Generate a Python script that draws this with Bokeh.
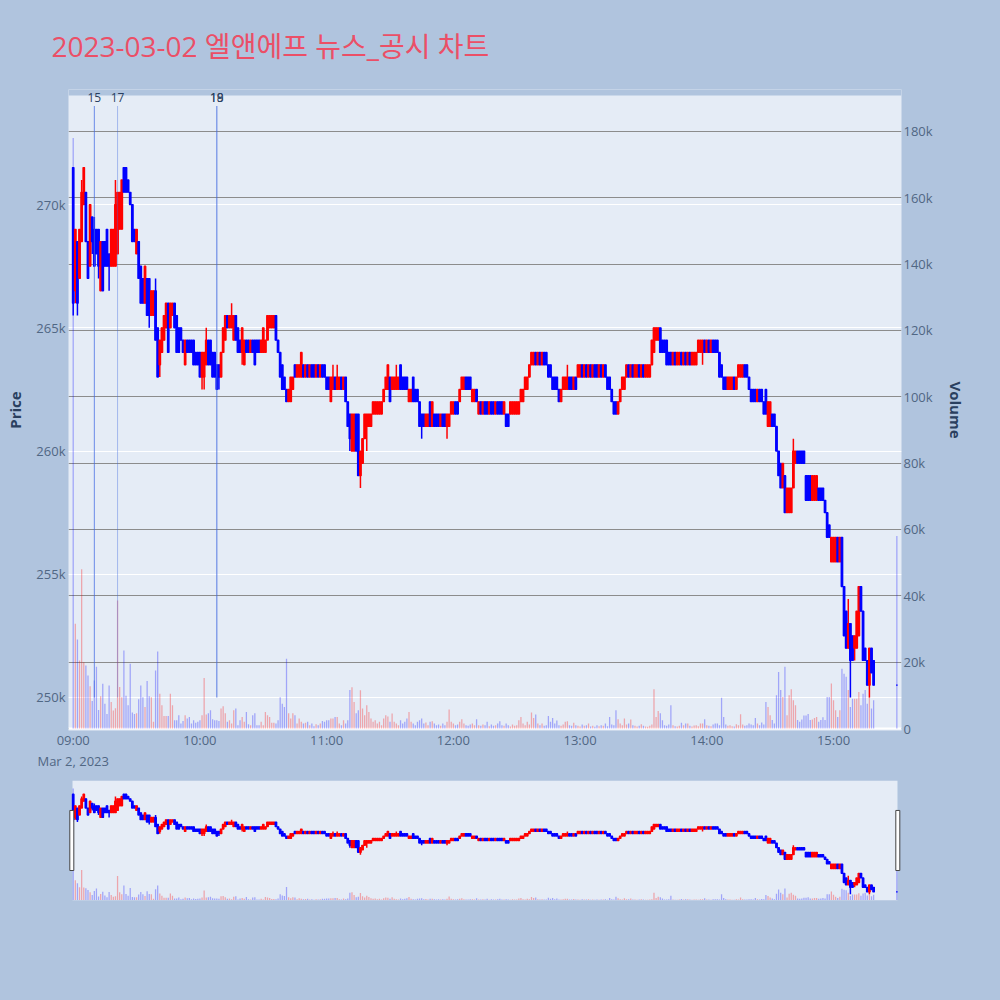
import pandas as pd

from bokeh.plotting import figure
from bokeh.layouts import column
from bokeh.models import (ColumnDataSource, Range1d, LinearAxis, FixedTicker, Grid,
                          DatetimeTickFormatter, GlobalInlineStyleSheet)
from bokeh.core.properties import value
from bokeh.embed import file_html
from bokeh.resources import INLINE

TITLE = "2023-03-02 엘앤에프 뉴스_공시 차트"
DAY = "2023-03-02"

# one candle per minute from 09:00 to 15:19, last entry = 15:30 closing auction
# prices in thousand won, volumes in thousand shares
opens = [
    271.5, 266.5, 268.5, 267, 268.5, 270, 270.5, 268.5, 267.5, 269.5,
    269, 269, 269, 266.5, 268.5, 268.5, 269, 268, 267.5, 267.5,
    267.5, 268, 269, 269, 271.5, 271.5, 271, 270.5, 270, 269,
    268, 268.5, 267.5, 267, 266, 267, 267, 265.5, 265.5, 266.5,
    265, 263.5, 264, 264.5, 265, 266, 265, 265.5, 266, 265.5,
    265, 265, 264.5, 263.5, 264.5, 264.5, 264.5, 264.5, 264, 264,
    264, 263, 263, 263.5, 264.5, 264.5, 264, 264, 263.5, 263.5,
    263, 264, 264.5, 265.5, 265, 265, 264.5, 265.5, 265, 264.5,
    264, 263.5, 264.5, 264.5, 264, 264.5, 264.5, 264.5, 264.5, 264,
    264, 264, 264.5, 265, 265, 265, 265.5, 264.5, 264, 263.5,
    263, 262.5, 262, 262, 262.5, 263.5, 263, 263, 263, 263.5,
    263, 263.5, 263, 263.5, 263.5, 263, 263.5, 263, 263.5, 263.5,
    263, 263, 262, 262.5, 263, 262.5, 262.5, 263, 262.5, 263,
    262, 261.5, 260, 260, 261.5, 261.5, 259, 259.5, 260.5, 261,
    261, 261, 261.5, 261.5, 261.5, 261.5, 261.5, 262, 262.5, 262.5,
    263, 262.5, 262.5, 262.5, 262.5, 263.5, 263, 263, 263, 262,
    262, 263, 262.5, 262.5, 262, 261.5, 261.5, 261, 261, 262,
    261, 261.5, 261.5, 261.5, 261, 261.5, 261.5, 261, 261, 261.5,
    261.5, 262, 262, 262, 262.5, 262.5, 263, 263, 263, 262,
    262, 262.5, 261.5, 262, 261.5, 262, 262, 261.5, 262, 262,
    261.5, 262, 262, 262, 261.5, 261.5, 261.5, 261.5, 261.5, 261.5,
    261.5, 261.5, 262, 262, 262.5, 262.5, 263, 263.5, 263.5, 264,
    263.5, 264, 263.5, 264, 264, 263.5, 263.5, 263, 263, 263,
    262.5, 262, 262.5, 262.5, 262.5, 263, 263, 262.5, 263, 263,
    263, 263.5, 263, 263.5, 263, 263.5, 263, 263.5, 263.5, 263,
    263.5, 263, 263.5, 263, 263, 262.5, 262, 262, 261.5, 262,
    262.5, 262.5, 263, 263.5, 263, 263.5, 263, 263, 263.5, 263,
    263.5, 263, 263, 263, 263.5, 264, 264.5, 264.5, 265, 264.5,
    264.5, 264.5, 264, 264, 263.5, 264, 263.5, 263.5, 264, 263.5,
    264, 263.5, 264, 263.5, 263.5, 263.5, 264, 264, 264, 264.5,
    264, 264.5, 264, 264.5, 264.5, 264.5, 264, 263.5, 263, 263,
    262.5, 262.5, 262.5, 263, 262.5, 263, 263, 263, 263.5, 263.5,
    263, 262.5, 262.5, 262.5, 262, 262.5, 262.5, 262, 262.5, 261,
    261, 261.5, 261.5, 261, 260, 259.5, 258.5, 259, 257.5, 257.5,
    257.5, 258.5, 259.5, 260, 260, 260, 260, 259, 259, 259,
    258, 258, 258, 258.5, 258.5, 258.5, 258, 257.5, 257, 255.5,
    255.5, 255.5, 256.5, 255.5, 256.5, 254.5, 253.5, 252, 253, 252.5,
    252, 252, 252.5, 254.5, 253.5, 252, 251.5, 250.5, 252, 251.5,
    250.5,
]
closes = [
    266, 269, 266, 269, 270.5, 271.5, 268.5, 267, 270, 268.5,
    267.5, 268, 267.5, 268.5, 266.5, 267.5, 267.5, 267.5, 269, 269,
    270, 270.5, 270.5, 271, 270.5, 270.5, 270.5, 270, 268.5, 268.5,
    269, 267, 266, 266, 267.5, 265.5, 265.5, 266.5, 266.5, 264.5,
    263, 264.5, 265, 265.5, 266, 264, 266, 266, 265, 264,
    264, 264.5, 264, 264.5, 264, 264, 264, 263.5, 263.5, 263.5,
    263, 264, 264, 264.5, 263.5, 263.5, 263, 263, 262.5, 263,
    264, 265, 265.5, 265, 265.5, 265.5, 265.5, 264.5, 264, 264,
    265, 264.5, 264, 264, 264.5, 264, 263.5, 264, 264, 264.5,
    265, 264.5, 265.5, 265.5, 265.5, 265.5, 264.5, 264, 263, 262.5,
    262.5, 262, 262.5, 263, 263, 263, 263.5, 263.5, 264, 263,
    263.5, 263, 263.5, 263, 263, 263.5, 263, 263.5, 263, 263,
    262.5, 262.5, 263, 263, 262.5, 263, 263, 262.5, 263, 262,
    261, 260.5, 261.5, 261.5, 260, 259, 260, 260.5, 261.5, 261.5,
    261.5, 261.5, 262, 262, 262, 262, 262, 262.5, 263, 263.5,
    262, 263, 263, 263, 263, 262.5, 262.5, 262.5, 262.5, 262.5,
    262.5, 262, 262, 262, 261, 261, 261, 261.5, 261.5, 261,
    262, 261, 261, 261, 261.5, 261, 261, 261.5, 261.5, 262,
    262, 261.5, 261.5, 262.5, 263, 263, 262.5, 262.5, 262.5, 262.5,
    262.5, 262, 262, 261.5, 262, 261.5, 261.5, 262, 261.5, 261.5,
    262, 261.5, 261.5, 261.5, 262, 261, 261, 262, 262, 262,
    262, 262, 262.5, 262.5, 263, 263, 263.5, 264, 264, 263.5,
    264, 263.5, 264, 263.5, 263.5, 263, 263, 262.5, 262.5, 262.5,
    262, 262.5, 263, 263, 263, 262.5, 262.5, 263, 262.5, 263.5,
    263.5, 263, 263.5, 263, 263.5, 263, 263.5, 263, 263, 263.5,
    263, 263.5, 263, 262.5, 262.5, 262, 261.5, 261.5, 262, 262.5,
    263, 263, 263.5, 263, 263.5, 263, 263.5, 263.5, 263, 263.5,
    263, 263.5, 263.5, 263.5, 264.5, 265, 265, 265, 264, 264,
    264, 263.5, 263.5, 263.5, 264, 263.5, 264, 264, 263.5, 264,
    263.5, 264, 263.5, 264, 264, 264, 264.5, 264.5, 264.5, 264,
    264.5, 264, 264.5, 264, 264, 264, 263, 263, 262.5, 262.5,
    263, 263, 263, 262.5, 263, 263.5, 263.5, 263.5, 263, 263,
    262.5, 262, 262, 262, 262.5, 262, 262, 261.5, 261.5, 262,
    262, 261, 261, 260, 259, 258.5, 259.5, 257.5, 258.5, 258.5,
    258.5, 260, 260, 259.5, 259.5, 259.5, 259.5, 258, 258, 258,
    259, 259, 259, 258, 258, 258, 257.5, 256.5, 256.5, 256.5,
    256.5, 256.5, 255.5, 256.5, 254.5, 252.5, 252, 253, 251.5, 251.5,
    252.5, 253.5, 254.5, 253.5, 251.5, 251.5, 250.5, 252, 251, 250.5,
    250.5,
]
highs = [
    271.5, 269, 268.5, 269, 271, 271.5, 270.5, 268.5, 270, 269.5,
    269.5, 269, 269, 268.5, 268.5, 268.5, 269, 268, 269, 269,
    271, 270.5, 270.5, 271, 271.5, 271.5, 271, 270.5, 270, 269,
    269, 268.5, 267.5, 267, 267.5, 267, 267, 266.5, 266.5, 267,
    265, 264.5, 265, 265.5, 266, 266, 266, 266, 266, 265.5,
    265, 265, 264.5, 264.5, 264.5, 264.5, 264.5, 264.5, 264, 264,
    264, 264, 264, 265, 264.5, 264.5, 264, 264, 263.5, 263.5,
    264, 265, 265.5, 265.5, 265.5, 266, 265.5, 265.5, 265, 264.5,
    265, 264.5, 264.5, 264.5, 264.5, 264.5, 264.5, 264.5, 264.5, 264.5,
    265, 264.5, 265.5, 265.5, 265.5, 265.5, 265.5, 264.5, 264, 263.5,
    263, 262.5, 262.5, 263, 263, 263.5, 263.5, 263.5, 264, 263.5,
    263.5, 263.5, 263.5, 263.5, 263.5, 263.5, 263.5, 263.5, 263.5, 263.5,
    263, 263, 263, 263.5, 263, 263.5, 263, 263, 263, 263,
    262, 261.5, 261.5, 261.5, 261.5, 261.5, 260, 260.5, 261.5, 261.5,
    261.5, 261.5, 262, 262, 262, 262, 262, 262.5, 263, 263.5,
    263, 263, 263, 263.5, 263, 263.5, 263, 263, 263, 262.5,
    262.5, 263, 262.5, 262.5, 262, 261.5, 261.5, 261.5, 261.5, 262,
    262, 261.5, 261.5, 261.5, 261.5, 261.5, 261.5, 261.5, 261.5, 262,
    262, 262, 262, 262.5, 263, 263, 263, 263, 263, 262.5,
    262.5, 262.5, 262, 262, 262, 262, 262, 262, 262, 262,
    262, 262, 262, 262, 262, 261.5, 261.5, 262, 262, 262,
    262, 262, 262.5, 262.5, 263, 263, 263.5, 264, 264, 264,
    264, 264, 264, 264, 264, 263.5, 263.5, 263, 263, 263,
    262.5, 262.5, 263, 263, 263.5, 263, 263, 263, 263, 263.5,
    263.5, 263.5, 263.5, 263.5, 263.5, 263.5, 263.5, 263.5, 263.5, 263.5,
    263.5, 263.5, 263.5, 263, 263, 262.5, 262, 262, 262, 262.5,
    263, 263, 263.5, 263.5, 263.5, 263.5, 263.5, 263.5, 263.5, 263.5,
    263.5, 263.5, 263.5, 263.5, 264.5, 265, 265, 265, 265, 264.5,
    264.5, 264.5, 264, 264, 264, 264, 264, 264, 264, 264,
    264, 264, 264, 264, 264, 264, 264.5, 264.5, 264.5, 264.5,
    264.5, 264.5, 264.5, 264.5, 264.5, 264.5, 264, 263.5, 263, 263,
    263, 263, 263, 263, 263, 263.5, 263.5, 263.5, 263.5, 263.5,
    263, 262.5, 262.5, 262.5, 262.5, 262.5, 262.5, 262, 262.5, 262,
    262, 261.5, 261.5, 261, 260, 259.5, 259.5, 259, 258.5, 258.5,
    258.5, 260.5, 260, 260, 260, 260, 260, 259, 259, 259,
    259, 259, 259, 258.5, 258.5, 258.5, 258, 257.5, 257, 256.5,
    256.5, 256.5, 256.5, 256.5, 256.5, 254.5, 253.5, 254, 253, 252.5,
    252.5, 253.5, 254.5, 254.5, 253.5, 252, 251.5, 252, 252, 251.5,
    250.5,
]
lows = [
    265.5, 266, 265.5, 267, 268.5, 270, 268.5, 267, 267.5, 268,
    267.5, 268, 267, 266.5, 266.5, 267.5, 267.5, 266.5, 267.5, 267.5,
    267.5, 268, 269, 269, 270.5, 270.5, 270.5, 270, 268.5, 268.5,
    268, 267, 266, 266, 266, 265.5, 265, 265.5, 265.5, 264.5,
    263, 263, 264, 264.5, 265, 264, 265, 265.5, 265, 264,
    264, 264.5, 264, 263.5, 264, 264, 264, 263.5, 263.5, 263.5,
    263, 262.5, 262.5, 263.5, 263.5, 263.5, 263, 263, 262.5, 262.5,
    263, 264, 264.5, 265, 265, 265, 264.5, 264.5, 264, 264,
    263.5, 263.5, 264, 264, 264, 264, 263.5, 264, 264, 264,
    264, 264, 264.5, 265, 265, 265, 264.5, 264, 263, 262.5,
    262.5, 262, 262, 262, 262.5, 263, 263, 263, 263, 263,
    263, 263, 263, 263, 263, 263, 263, 263, 263, 263,
    262.5, 262.5, 262, 262.5, 262.5, 262.5, 262.5, 262.5, 262.5, 262,
    261, 260, 260, 260, 260, 259, 258.5, 259.5, 260.5, 260,
    261, 261, 261.5, 261.5, 261.5, 261.5, 261.5, 262, 262.5, 262.5,
    262, 262.5, 262.5, 262.5, 262.5, 262.5, 262.5, 262.5, 262.5, 262,
    262, 262, 262, 262, 261, 260.5, 261, 261, 261, 261,
    261, 261, 261, 261, 261, 261, 261, 260.5, 261, 261.5,
    261.5, 261.5, 261.5, 262, 262.5, 262.5, 262.5, 262.5, 262.5, 262,
    262, 262, 261.5, 261.5, 261.5, 261.5, 261.5, 261.5, 261.5, 261.5,
    261.5, 261.5, 261.5, 261.5, 261.5, 261, 261, 261.5, 261.5, 261.5,
    261.5, 261.5, 262, 262, 262.5, 262.5, 263, 263.5, 263.5, 263.5,
    263.5, 263.5, 263.5, 263.5, 263.5, 263, 263, 262.5, 262.5, 262.5,
    262, 262, 262.5, 262.5, 262.5, 262.5, 262.5, 262.5, 262.5, 263,
    263, 263, 263, 263, 263, 263, 263, 263, 263, 263,
    263, 263, 263, 262.5, 262.5, 262, 261.5, 261.5, 261.5, 262,
    262.5, 262.5, 263, 263, 263, 263, 263, 263, 263, 263,
    263, 263, 263, 263, 263.5, 264, 264.5, 264.5, 264, 264,
    264, 263.5, 263.5, 263.5, 263.5, 263.5, 263.5, 263.5, 263.5, 263.5,
    263.5, 263.5, 263.5, 263.5, 263.5, 263.5, 264, 264, 263.5, 264,
    264, 264, 264, 264, 264, 264, 263, 263, 262.5, 262.5,
    262.5, 262.5, 262.5, 262.5, 262.5, 263, 263, 263, 263, 263,
    262.5, 262, 262, 262, 262, 262, 262, 261.5, 261.5, 261,
    261, 261, 261, 260, 259, 258.5, 258.5, 257.5, 257.5, 257.5,
    257.5, 258.5, 259.5, 259.5, 259.5, 259.5, 259.5, 258, 258, 258,
    258, 258, 258, 258, 258, 258, 257.5, 256.5, 256.5, 255.5,
    255.5, 255.5, 255.5, 255.5, 254.5, 252.5, 252, 252, 250, 251.5,
    251.5, 252, 252.5, 253.5, 251.5, 251.5, 250.5, 250, 251, 250.5,
    250.5,
]
volumes = [
    178, 31.6, 26.8, 20.5, 48, 20, 19, 16, 12.7, 8.3,
    14.5, 18.6, 5.6, 9.7, 13.5, 7.5, 4.4, 13, 8, 5.4,
    6.1, 38.6, 12.5, 9.4, 23.5, 9.9, 7, 19.5, 4.8, 4.4,
    4.6, 8.8, 13, 9.4, 6.5, 14.3, 9.7, 9.4, 2, 17.5,
    23.2, 10.5, 7, 3.8, 3.8, 3.8, 10.5, 7, 2.5, 2.5,
    4, 1.5, 2.3, 4, 3, 3.5, 1.5, 2.5, 1.7, 2,
    2.5, 4, 15.2, 4.2, 4.6, 5.5, 2.8, 2.5, 2.5, 2.3,
    6, 6.7, 4.6, 2, 2.5, 1.5, 5.5, 6, 1, 2.5,
    3.5, 2, 5, 1.3, 1, 4, 4.6, 1, 1, 2,
    1, 5, 4, 3.5, 1.7, 1.7, 1.5, 2.5, 9.4, 7.5,
    6.5, 21, 4.6, 3, 4.6, 4, 1.5, 3, 2, 1.5,
    1.7, 2, 1, 1.5, 0.7, 1.3, 1, 1.5, 2.3, 2,
    2.5, 2.5, 3, 3, 3.5, 3.5, 1.5, 1, 2.5, 1.5,
    2.5, 11.6, 12.4, 8, 4.6, 5.5, 11.5, 6, 4, 7,
    5, 3, 2, 2.5, 1.5, 2, 1, 3, 4, 3.6,
    2, 4.5, 2, 1.5, 1, 2.5, 1.5, 2, 3, 5,
    2, 1.5, 1, 2, 2.5, 3, 1.5, 1.8, 1, 2,
    2.2, 1.5, 1, 1.2, 0.8, 1.5, 1, 2, 5.7, 2,
    1.5, 1, 1.2, 2, 2.8, 1.5, 1, 0.8, 1.2, 1.5,
    1, 2.8, 1, 0.8, 1.2, 1, 2, 0.7, 1.2, 0.8,
    1, 1.5, 2.2, 1, 0.8, 1.5, 1, 0.6, 1.2, 0.8,
    1, 2.5, 3.5, 1.5, 1, 2, 1.2, 4.8, 3.2, 4.2,
    1.5, 1, 1.5, 0.8, 1, 3.8, 2, 3.2, 1.5, 2.4,
    1, 0.8, 1.2, 2, 2.2, 1, 0.8, 1.7, 1, 0.8,
    0.6, 1.2, 0.8, 1, 1.5, 0.6, 0.8, 0.5, 1, 0.7,
    1, 0.8, 1.5, 0.7, 3.5, 1.2, 1, 5.5, 2.8, 1.5,
    1, 3, 1.2, 1.5, 2.7, 1, 0.8, 0.6, 0.8, 1.3,
    0.8, 0.6, 0.5, 0.8, 1.2, 11.8, 3.5, 5.3, 4.6, 2.5,
    1, 0.8, 1.2, 7, 1, 0.7, 0.6, 0.8, 1.7, 1,
    1.5, 1.5, 0.8, 0.6, 0.9, 1, 0.7, 1.5, 1.5, 2.8,
    1, 0.8, 0.7, 1.2, 1.5, 1.5, 1, 9.3, 3.5, 1.2,
    0.8, 1, 0.7, 0.6, 1.3, 1, 4.3, 1.2, 0.8, 1,
    1.5, 1.2, 1, 3.2, 1.5, 1, 1.8, 1.2, 8, 6.5,
    4, 2.6, 1.5, 10, 17, 11.6, 9.5, 18.6, 4, 10,
    11.8, 8.5, 7, 2.6, 2, 2.7, 3.9, 3.9, 4.4, 2.6,
    2.7, 3.2, 3.5, 2, 2.6, 3.4, 2.6, 9.5, 9.5, 13.6,
    8.5, 5.5, 3.5, 5.5, 18, 16.5, 15.6, 11.6, 6.5, 9,
    9, 9, 11, 7, 10.5, 11.6, 7.5, 9.5, 6, 8.5,
    58,
]

news_times = ["09:10", "09:21", "10:08", "10:08"]
news_labels = ["15", "17", "18", "19"]
news_line_alpha = [0.75, 0.4, 0.5, 0.5]

price_ticks = [250, 255, 260, 265, 270]
volume_ticks = [0, 20, 40, 60, 80, 100, 120, 140, 160, 180]

BG = "#b0c4de"
PLOT_BG = "#e5ecf6"
UP, DOWN = "#ff0000", "#0000ff"
FONT = "Open Sans, Noto Sans CJK KR"
TICK_COLOR = "#506784"
MIN = 60_000  # one minute in ms
PRICE_RANGE = (248.66, 274.43)
VOL_RANGE = (-0.6, 190.8)
# main frame is 6px taller at the top so the news labels can straddle its edge
MAIN_PRICE_TOP = 274.67
MAIN_VOL_TOP = 192.6


def ms(ts):
    return pd.Timestamp(ts).value / 1e6


def draw_candles(fig, src):
    fig.vbar(x="t", top="vol", bottom=0, width=0.6 * MIN, source=src,
             fill_color="color", fill_alpha=0.3, line_color=None, y_range_name="vol")
    fig.segment(x0="t", y0="high", x1="t", y1="low", source=src,
                line_color="color", line_width=1.5)
    fig.vbar(x="t", top="top", bottom="bottom", width=0.75 * MIN, source=src,
             fill_color="color", line_color="color", line_width=1.2)


times = list(pd.date_range(f"{DAY} 09:00", periods=len(opens) - 1, freq="min"))
times.append(pd.Timestamp(f"{DAY} 15:30"))

df = pd.DataFrame(dict(t=times, open=opens, high=highs, low=lows, close=closes, vol=volumes))
df["color"] = [UP if c > o else DOWN for o, c in zip(opens, closes)]
df["top"] = df[["open", "close"]].max(axis=1)
df["bottom"] = df[["open", "close"]].min(axis=1)
src = ColumnDataSource(df)

t0 = ms(times[0])
t_end = ms(times[-1])
x_range = Range1d(t0 - 2.23 * MIN, t0 + 392.2 * MIN)

# ---- main chart
p = figure(width=992, height=776, x_axis_type="datetime",
           x_range=x_range, y_range=Range1d(PRICE_RANGE[0], MAIN_PRICE_TOP),
           output_backend="svg", toolbar_location=None,
           background_fill_color=PLOT_BG, border_fill_color=BG, outline_line_color=None,
           min_border_left=68, min_border_right=91, min_border_top=89, min_border_bottom=46)
p.extra_y_ranges = {"vol": Range1d(VOL_RANGE[0], MAIN_VOL_TOP)}

p.title.text = TITLE
p.title.text_font = FONT
p.title.text_font_size = "28px"
p.title.text_font_style = "normal"
p.title.text_color = "#eb4f67"
p.title.offset = -17
p.title.vertical_align = "top"
p.title.standoff = 46

p.xgrid.grid_line_color = None
p.ygrid.ticker = FixedTicker(ticks=price_ticks)
p.ygrid.grid_line_color = "white"
p.ygrid.grid_line_width = 1

vol_ticker = FixedTicker(ticks=volume_ticks)
p.add_layout(Grid(dimension=1, ticker=vol_ticker, y_range_name="vol",
                  grid_line_color="#8c8c8c", grid_line_width=1))

p.hspan(y=[0], y_range_name="vol", line_color="white", line_width=2)
draw_candles(p, src)

# strip above the real plot area
p.quad(left=[x_range.start], right=[x_range.end], bottom=[PRICE_RANGE[1]], top=[MAIN_PRICE_TOP],
       fill_color=BG, line_color=None)

news_src = ColumnDataSource(dict(t=[pd.Timestamp(f"{DAY} {h}") for h in news_times],
                                 label=news_labels, alpha=news_line_alpha))
p.segment(x0="t", y0=250, x1="t", y1=274, source=news_src,
          line_color="#4169e1", line_alpha="alpha", line_width=1)
p.text(x="t", y=274.36, text="label", source=news_src,
       text_align="center", text_baseline="middle",
       text_font=value(FONT), text_font_size="12px", text_color="#2a3f5f")

# axes
p.yaxis.ticker = FixedTicker(ticks=price_ticks)
p.yaxis.major_label_overrides = {t: f"{t}k" for t in price_ticks}
p.yaxis.axis_label = "Price"
p.yaxis.major_label_standoff = 3
p.yaxis.axis_label_standoff = 8

p.xaxis.ticker = FixedTicker(ticks=[t0 + h * 60 * MIN for h in range(7)])
p.xaxis.formatter = DatetimeTickFormatter(
    minutes="%H:%M", hourmin="%H:%M", hours="%H:%M",
    context=DatetimeTickFormatter(minutes="%b %-d, %Y", hourmin="%b %-d, %Y",
                                  hours="%b %-d, %Y"),
    context_which="start", context_location="below")
p.xaxis.major_label_standoff = 0

vol_axis = LinearAxis(y_range_name="vol", ticker=vol_ticker, axis_label="Volume",
                      major_label_overrides={v: (f"{v}k" if v else "0") for v in volume_ticks})
vol_axis.major_label_standoff = 2
vol_axis.axis_label_standoff = 10
vol_axis.axis_label_orientation = "vertical"
p.add_layout(vol_axis, "right")

for ax in (p.xaxis[0], p.yaxis[0], vol_axis):
    ax.axis_line_color = None
    ax.major_tick_line_color = None
    ax.minor_tick_line_color = None
    ax.major_tick_out = 0
    ax.major_tick_in = 0
    ax.minor_tick_out = 0
    ax.minor_tick_in = 0
    ax.major_label_text_font = FONT
    ax.major_label_text_font_size = "13px"
    ax.major_label_text_color = TICK_COLOR
    ax.axis_label_text_font = FONT
    ax.axis_label_text_font_size = "15px"
    ax.axis_label_text_font_style = "bold"
    ax.axis_label_text_color = "#2a3f5f"

# ---- range slider
s = figure(width=992, height=216, x_axis_type="datetime",
           x_range=x_range, y_range=Range1d(*PRICE_RANGE),
           output_backend="svg", toolbar_location=None,
           background_fill_color=BG, border_fill_color=BG, outline_line_color=None,
           x_axis_location=None, y_axis_location=None,
           min_border_left=68, min_border_right=91, min_border_top=4, min_border_bottom=92)
s.grid.visible = False
s.extra_y_ranges = {"vol": Range1d(*VOL_RANGE)}
s.quad(left=[t0 - 0.33 * MIN], right=[t_end + 0.3 * MIN],
       bottom=[PRICE_RANGE[0]], top=[PRICE_RANGE[1]], fill_color=PLOT_BG, line_color=None)
draw_candles(s, src)
s.quad(left=[t0 - 1.61 * MIN, t_end - 0.5 * MIN], right=[t0 + 0.29 * MIN, t_end + 1.4 * MIN],
       bottom=[255.1, 255.1], top=[268.0, 268.0],
       fill_color="white", line_color="#444444", line_width=1)

page_css = GlobalInlineStyleSheet(css="html, body { margin: 0; padding: 0; background: #b0c4de; }")
layout = column(p, s, stylesheets=[page_css])

open("out.html", "w").write(file_html(layout, INLINE))
